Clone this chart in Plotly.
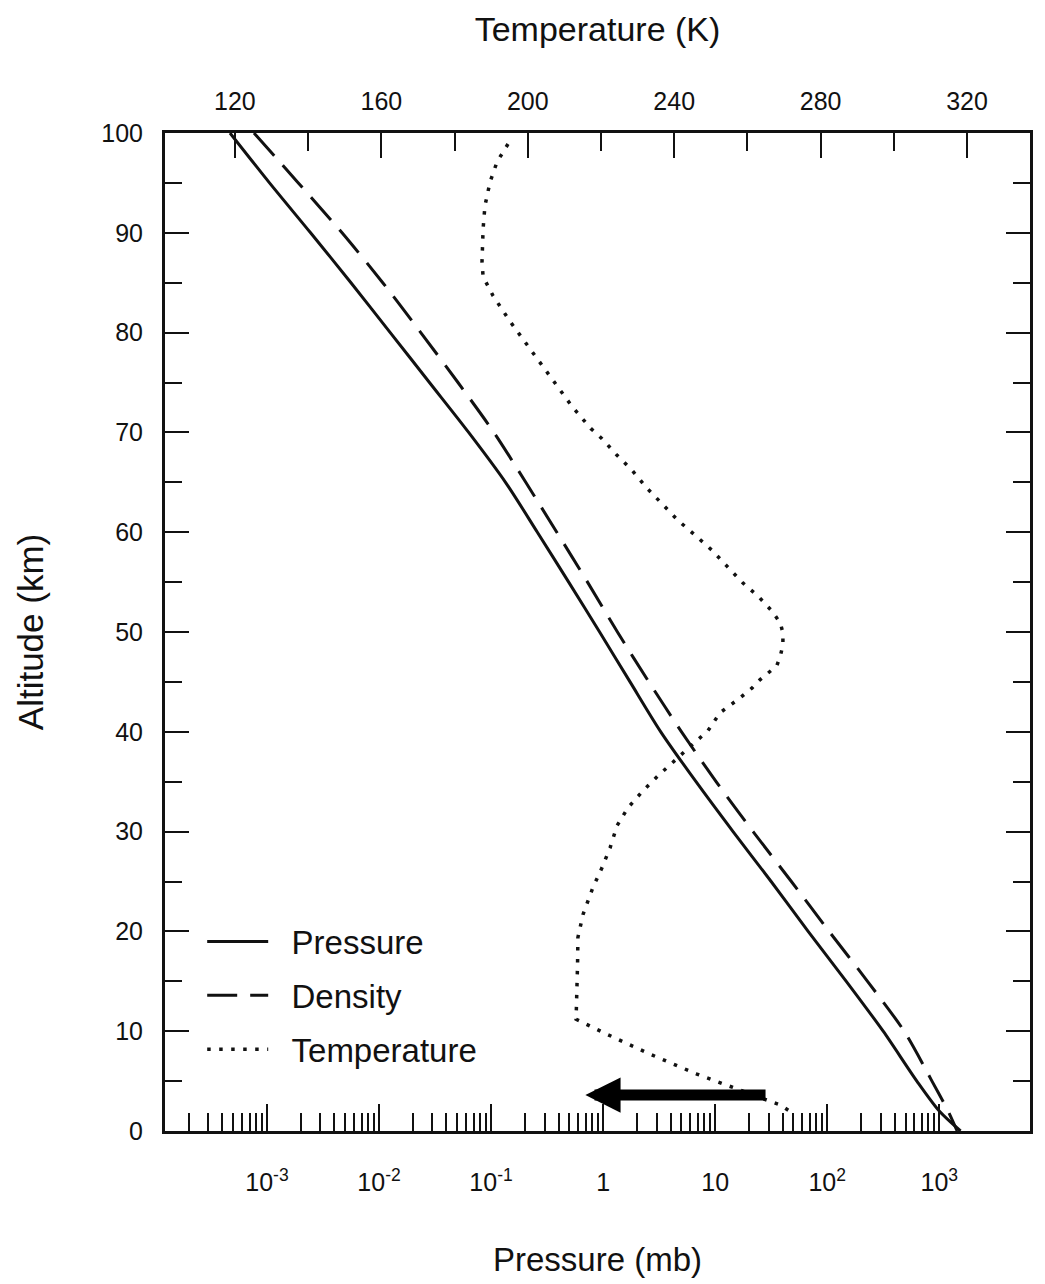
import plotly.graph_objects as go

# ---------------- data ----------------
altitude_km = [100, 95, 90, 85, 80, 75, 70, 65, 60, 55, 50, 45, 40, 35, 30, 25, 20, 15, 10, 5, 2, 0]
pressure_mb = [4.68e-4, 1.054e-3, 2.45e-3, 5.62e-3, 0.0126, 0.0282, 0.0631, 0.1346, 0.259, 0.493,
               0.931, 1.74, 3.27, 6.75, 14.45, 31.6, 67.6, 148, 316, 631, 1000, 1550]
# density, drawn on the same logarithmic scale as pressure
density_rel = [7.66e-4, 1.905e-3, 4.68e-3, 0.0108, 0.0236, 0.0507, 0.106, 0.204, 0.386, 0.726,
               1.343, 2.56, 5.01, 10.2, 21.8, 47.9, 104, 229, 486, 861, 1200, 1445]

temp_altitude_km = [98.9, 97.1, 95.1, 92.7, 90.4, 87.1, 85.6, 83.7, 81.2, 78.4, 75.7, 73.4, 72.6,
                    70.4, 69.4, 67.7, 66.2, 64.4, 62.7, 61.2, 59.7, 58.2, 56.6, 54.9, 53.6, 52.1,
                    50.9, 49.9, 48.7, 47.6, 46.6, 46.0, 45.2, 44.4, 43.4, 41.9, 40.1, 38.7, 37.6,
                    36.4, 35.6, 34.1, 32.4, 30.6, 28.4, 26.4, 24.4, 21.7, 19.4, 16.7, 13.1, 11.2,
                    9.7, 7.7, 5.7, 4.2, 2.6, 2.0]
temperature_K = [194.6, 191.6, 189.7, 188.3, 187.8, 187.5, 187.8, 190.5, 195.0, 200.6, 206.0, 210.7, 212.1,
                 217.2, 220.2, 224.4, 228.5, 232.6, 236.9, 241.0, 245.7, 250.3, 254.4, 258.8, 262.9, 266.7,
                 269.0, 269.7, 269.7, 269.0, 268.0, 266.0, 263.4, 261.3, 258.0, 252.5, 249.2, 244.9, 241.6,
                 238.3, 235.6, 231.5, 227.4, 224.4, 222.5, 220.3, 217.8, 215.1, 213.7, 213.6, 213.4, 213.2,
                 221.6, 233.4, 246.2, 257.0, 269.0, 271.5]

pressure_tickvals = [1e-3, 1e-2, 1e-1, 1, 10, 1e2, 1e3]
pressure_ticktext = ["10<sup>-3</sup>", "10<sup>-2</sup>", "10<sup>-1</sup>", "1", "10",
                     "10<sup>2</sup>", "10<sup>3</sup>"]
pressure_minor = [m * 10.0 ** e for e in range(-4, 3) for m in range(2, 10)]
temp_tickvals = [120, 160, 200, 240, 280, 320]
temp_minor = [140, 180, 220, 260, 300]

FONT = "Liberation Sans, Arial, sans-serif"
INK = "#111111"
GAP = "\u00a0\u00a0"

fig = go.Figure()
fig.add_trace(go.Scatter(x=pressure_mb, y=altitude_km, mode="lines", name=GAP + "Pressure",
                         line=dict(color=INK, width=3, shape="spline", smoothing=0.8),
                         xaxis="x", yaxis="y", legendgroup="a"))
fig.add_trace(go.Scatter(x=density_rel, y=altitude_km, mode="lines", name=GAP + "Density",
                         line=dict(color=INK, width=3, dash="30px,13px", shape="spline", smoothing=0.8),
                         xaxis="x", yaxis="y", legendgroup="b"))
fig.add_trace(go.Scatter(x=temperature_K, y=temp_altitude_km, mode="lines", name=GAP + "Temperature",
                         line=dict(color=INK, width=3.5, dash="3.5px,8.5px"), xaxis="x2", yaxis="y",
                         legendgroup="c"))

fig.update_layout(
    width=1045, height=1284,
    margin=dict(l=165, r=15, t=133, b=150),
    paper_bgcolor="white", plot_bgcolor="white",
    font=dict(family=FONT, color=INK, size=25),
    showlegend=True,
    legend=dict(x=0.043, y=0.218, xanchor="left", yanchor="top", bgcolor="rgba(0,0,0,0)",
                font=dict(size=33, family=FONT, color=INK), itemwidth=61,
                traceorder="grouped", tracegroupgap=8),
    xaxis=dict(type="log", range=[-3.91, 3.81], showgrid=False, zeroline=False,
               showline=True, linecolor=INK, linewidth=3,
               tickmode="array", tickvals=pressure_tickvals, ticktext=pressure_ticktext,
               ticks="inside", ticklen=27, tickwidth=2, tickcolor=INK,
               ticklabelstandoff=27,
               minor=dict(tickmode="array", tickvals=pressure_minor, ticks="inside",
                          ticklen=18, tickwidth=2, tickcolor=INK),
               title=dict(text="Pressure (mb)", font=dict(size=33, family=FONT, color=INK), standoff=53)),
    xaxis2=dict(overlaying="x", side="top", range=[100.9, 337.2], showgrid=False, zeroline=False,
                showline=True, linecolor=INK, linewidth=3,
                tickmode="array", tickvals=temp_tickvals,
                ticks="inside", ticklen=25, tickwidth=2, tickcolor=INK,
                ticklabelstandoff=10,
                minor=dict(tickmode="array", tickvals=temp_minor, ticks="inside",
                           ticklen=18, tickwidth=2, tickcolor=INK),
                title=dict(text="Temperature (K)", font=dict(size=34, family=FONT, color=INK), standoff=36)),
    yaxis=dict(range=[0, 100], showgrid=False, zeroline=False,
               showline=True, linecolor=INK, linewidth=3, mirror="ticks",
               tickmode="linear", tick0=0, dtick=10,
               ticks="inside", ticklen=24, tickwidth=2, tickcolor=INK,
               ticklabelstandoff=14,
               minor=dict(dtick=5, ticks="inside", ticklen=17, tickwidth=2, tickcolor=INK),
               title=dict(text="Altitude (km)", font=dict(size=35, family=FONT, color=INK), standoff=48)),
)

fig.add_annotation(x=0.486, y=0.036, xref="x domain", yref="y domain",
                   ax=0.696, ay=0.036, axref="x domain", ayref="y domain",
                   text="", showarrow=True, arrowhead=2, arrowsize=0.64, arrowwidth=11,
                   arrowcolor="black", standoff=0)

fig.write_html("out.html")
